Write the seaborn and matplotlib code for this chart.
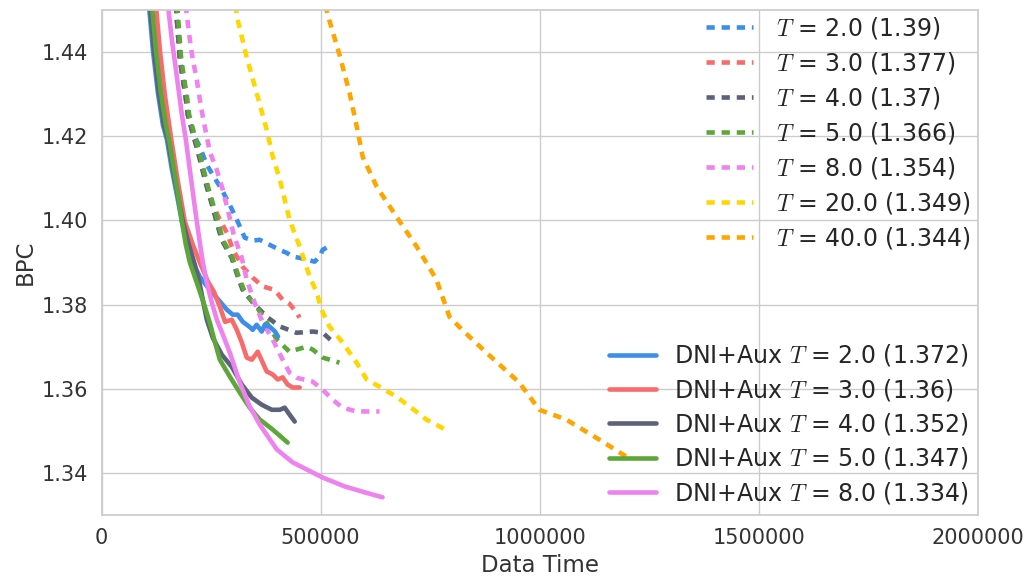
import numpy as np
import pandas as pd
import matplotlib
matplotlib.use("Agg")
import matplotlib.pyplot as plt
import seaborn as sns
from matplotlib.lines import Line2D

sns.set_theme(style="whitegrid")
plt.rcParams['font.family'] = ['DejaVu Sans']
plt.rcParams['mathtext.fontset'] = 'cm'

# ---------------- data ----------------
T_values = ["2.0", "3.0", "4.0", "5.0", "8.0", "20.0", "40.0"]
base_best = ["1.39", "1.377", "1.37", "1.366", "1.354", "1.349", "1.344"]
aux_T = ["2.0", "3.0", "4.0", "5.0", "8.0"]
aux_best = ["1.372", "1.36", "1.352", "1.347", "1.334"]

colors = ["#3d8ee9", "#f86b6b", "#5b6279", "#5da639", "#ee82ee", "#ffd700", "#ffa500"]

# baseline (dashed) curves
base_x_T2 = [172000, 179000, 192000, 197000, 208000, 224400, 240300, 254000, 274500, 292700,
             308700, 326900, 345100, 361000, 383800, 406600, 422500, 436200, 452200, 468100,
             486300, 497700, 504600, 515900]
base_y_T2 = [1.4477, 1.4382, 1.4294, 1.4251, 1.4208, 1.4175, 1.4132, 1.4108, 1.4073, 1.4037,
             1.4002, 1.3959, 1.3952, 1.3954, 1.3942, 1.3930, 1.3923, 1.3914, 1.3911, 1.3907,
             1.3902, 1.3914, 1.3930, 1.3937]

base_x_T3 = [170000, 172000, 179000, 192000, 197000, 208000, 220000, 231000, 242000, 254000,
             268000, 286000, 300000, 322000, 345000, 368000, 395000, 413000, 429000, 445000,
             452000]
base_y_T3 = [1.4512, 1.4477, 1.4382, 1.4294, 1.4251, 1.4208, 1.4163, 1.4125, 1.4080, 1.4037,
             1.4006, 1.3971, 1.3930, 1.3890, 1.3864, 1.3843, 1.3835, 1.3812, 1.3802, 1.3781,
             1.3769]

base_x_T4 = [170000, 172000, 179000, 192000, 197000, 208000, 220000, 229000, 240000, 252000,
             263000, 274000, 297000, 311000, 322000, 345000, 377000, 407000, 445000, 482000,
             505000, 527000]
base_y_T4 = [1.4512, 1.4477, 1.4382, 1.4294, 1.4251, 1.4208, 1.4163, 1.4125, 1.4080, 1.4037,
             1.3995, 1.3954, 1.3911, 1.3866, 1.3835, 1.3805, 1.3771, 1.3748, 1.3733, 1.3736,
             1.3733, 1.3712]

base_x_T5 = [173000, 175000, 182000, 195000, 200000, 211000, 223000, 232000, 243000, 255000,
             266000, 277000, 299000, 313000, 325000, 342000, 354000, 377000, 400000, 429000,
             468000, 482000, 505000, 543000]
base_y_T5 = [1.4512, 1.4477, 1.4382, 1.4294, 1.4251, 1.4208, 1.4163, 1.4125, 1.4080, 1.4037,
             1.3995, 1.3954, 1.3911, 1.3866, 1.3835, 1.3810, 1.3795, 1.3757, 1.3717, 1.3688,
             1.3700, 1.3693, 1.3674, 1.3662]

base_x_T8 = [192000, 201600, 208400, 217500, 224400, 231200, 240300, 247100, 263100, 276700,
             288200, 301800, 320000, 331400, 349600, 367800, 390600, 413400, 429300, 445300,
             481700, 504500, 527300, 550100, 582000, 634400]
base_y_T8 = [1.4512, 1.4429, 1.4382, 1.4334, 1.4287, 1.4246, 1.4199, 1.4163, 1.4120, 1.4073,
             1.4025, 1.3966, 1.3911, 1.3859, 1.3804, 1.3757, 1.3717, 1.3669, 1.3638, 1.3626,
             1.3617, 1.3598, 1.3574, 1.3555, 1.3546, 1.3546]

base_x_T20 = [306000, 309000, 331000, 354000, 377000, 391000, 407000, 429000, 452000, 475000,
              491000, 502000, 520000, 550000, 582000, 605000, 634000, 673000, 703000, 741000,
              794000]
base_y_T20 = [1.4512, 1.4484, 1.4389, 1.4303, 1.4215, 1.4151, 1.4097, 1.4002, 1.3938, 1.3867,
              1.3829, 1.3788, 1.3748, 1.3710, 1.3662, 1.3622, 1.3605, 1.3581, 1.3558, 1.3527,
              1.3498]

base_x_T40 = [511000, 516000, 543000, 566000, 584000, 596000, 628000, 673000, 719000, 764000,
              794000, 823000, 878000, 953000, 999000, 1060000, 1136000, 1197000]
base_y_T40 = [1.4512, 1.4489, 1.4394, 1.4303, 1.4215, 1.4151, 1.4080, 1.4009, 1.3938, 1.3860,
              1.3771, 1.3740, 1.3686, 1.3615, 1.3550, 1.3527, 1.3479, 1.3439]

# DNI + Aux (solid) curves
aux_x_T2 = [108200, 117300, 128700, 140100, 149300, 160800, 172000, 183400, 197000, 208400,
            224400, 243300, 263100, 285900, 299600, 310800, 322400, 338000, 345000, 354000,
            365600, 372500, 384300, 395900, 402800]
aux_y_T2 = [1.4512, 1.4405, 1.4303, 1.4227, 1.4192, 1.4120, 1.4061, 1.3997, 1.3942, 1.3900,
            1.3866, 1.3840, 1.3816, 1.3788, 1.3776, 1.3776, 1.3759, 1.3747, 1.3740, 1.3752,
            1.3736, 1.3752, 1.3747, 1.3736, 1.3724]

aux_x_T3 = [124100, 133200, 144600, 158300, 174300, 190200, 208400, 224400, 242600, 256300,
            270000, 281900, 297300, 308700, 320100, 331500, 342900, 356500, 367900, 377000,
            390600, 402000, 413400, 424800, 436200, 452200]
aux_y_T3 = [1.4512, 1.4405, 1.4298, 1.4199, 1.4092, 1.3997, 1.3942, 1.3900, 1.3855, 1.3831,
            1.3795, 1.3759, 1.3764, 1.3740, 1.3710, 1.3674, 1.3669, 1.3688, 1.3662, 1.3641,
            1.3634, 1.3622, 1.3627, 1.3610, 1.3603, 1.3603]

aux_x_T4 = [110500, 119600, 131000, 142400, 151700, 163400, 174300, 185700, 199300, 213000,
            224400, 240300, 254000, 274500, 297300, 320100, 342900, 365700, 388500, 406700,
            418100, 429500, 440900]
aux_y_T4 = [1.4512, 1.4405, 1.4303, 1.4227, 1.4192, 1.4120, 1.4061, 1.3997, 1.3942, 1.3895,
            1.3847, 1.3764, 1.3721, 1.3681, 1.3652, 1.3610, 1.3579, 1.3562, 1.3550, 1.3550,
            1.3555, 1.3538, 1.3522]

aux_x_T5 = [115000, 124100, 135500, 146900, 156000, 167400, 176500, 183400, 192500, 201600,
            217500, 235800, 247100, 258500, 270000, 292700, 315500, 338200, 361000, 390600,
            424800]
aux_y_T5 = [1.4512, 1.4405, 1.4303, 1.4227, 1.4180, 1.4108, 1.4049, 1.3997, 1.3942, 1.3900,
            1.3852, 1.3795, 1.3757, 1.3712, 1.3669, 1.3629, 1.3591, 1.3555, 1.3527, 1.3503,
            1.3472]

aux_x_T8 = [151500, 160600, 172000, 183400, 192500, 201600, 210700, 217500, 224400, 231200,
            240300, 251700, 263100, 276800, 292700, 315500, 338200, 361000, 399800, 436200,
            481800, 504600, 554700, 600300, 641200]
aux_y_T8 = [1.4512, 1.4429, 1.4341, 1.4251, 1.4192, 1.4120, 1.4049, 1.3997, 1.3947, 1.3900,
            1.3852, 1.3805, 1.3764, 1.3729, 1.3686, 1.3615, 1.3558, 1.3515, 1.3456, 1.3425,
            1.3401, 1.3389, 1.3368, 1.3354, 1.3342]

x_ticks = [0, 500000, 1000000, 1500000, 2000000]
y_ticks = [1.34, 1.36, 1.38, 1.40, 1.42, 1.44]

base_x = [base_x_T2, base_x_T3, base_x_T4, base_x_T5, base_x_T8, base_x_T20, base_x_T40]
base_y = [base_y_T2, base_y_T3, base_y_T4, base_y_T5, base_y_T8, base_y_T20, base_y_T40]
aux_x = [aux_x_T2, aux_x_T3, aux_x_T4, aux_x_T5, aux_x_T8]
aux_y = [aux_y_T2, aux_y_T3, aux_y_T4, aux_y_T5, aux_y_T8]

# ---------------- plotting ----------------
fig = plt.figure(figsize=(10.31, 5.77), dpi=100)
ax = fig.add_axes([101.5 / 1031, 1 - 515 / 577, (978 - 101.5) / 1031, (515 - 10) / 577])

LW = 3.3
dash = (1.8, 1.5)
FS_TICK = 15
FS_LAB = 16.5
FS_LEG = 17

base_handles, base_labels = [], []
for i, t in enumerate(T_values):
    df = pd.DataFrame({"x": base_x[i], "y": base_y[i]})
    sns.lineplot(data=df, x="x", y="y", ax=ax, color=colors[i], linewidth=LW,
                 sort=False, estimator=None)
    ax.lines[-1].set_dashes(dash)
    base_handles.append(Line2D([], [], color=colors[i], linewidth=LW, dashes=dash))
    base_labels.append(r"$T$ = " + f"{t} ({base_best[i]})")

aux_handles, aux_labels = [], []
for i, t in enumerate(aux_T):
    df = pd.DataFrame({"x": aux_x[i], "y": aux_y[i]})
    sns.lineplot(data=df, x="x", y="y", ax=ax, color=colors[i], linewidth=LW,
                 sort=False, estimator=None)
    aux_handles.append(Line2D([], [], color=colors[i], linewidth=LW))
    aux_labels.append(r"DNI+Aux $T$ = " + f"{t} ({aux_best[i]})")

ax.set_xlim(0, 2000000)
ax.set_ylim(1.33, 1.45)
ax.set_xticks(x_ticks)
ax.set_xticklabels([str(v) for v in x_ticks], fontsize=FS_TICK)
ax.set_yticks(y_ticks)
ax.set_yticklabels([f"{v:.2f}" for v in y_ticks], fontsize=FS_TICK)
ax.set_xlabel("Data Time", fontsize=FS_LAB)
ax.set_ylabel("BPC", fontsize=FS_LAB)
ax.tick_params(axis="both", colors="#333333", labelsize=FS_TICK)
ax.xaxis.label.set_color("#333333")
ax.yaxis.label.set_color("#333333")

leg1 = ax.legend(base_handles, base_labels, loc="upper right", frameon=False,
                 fontsize=FS_LEG, borderaxespad=0.0, bbox_to_anchor=(1.002, 1.009),
                 labelspacing=0.38, handletextpad=0.95)
ax.add_artist(leg1)
leg2 = ax.legend(aux_handles, aux_labels, loc="lower right", frameon=False,
                 fontsize=FS_LEG, borderaxespad=0.0, bbox_to_anchor=(1.0, 0.0),
                 labelspacing=0.35, handletextpad=0.75)
for lg in (leg1, leg2):
    for txt in lg.get_texts():
        txt.set_color("#262626")

fig.savefig("out.png", dpi=100)
